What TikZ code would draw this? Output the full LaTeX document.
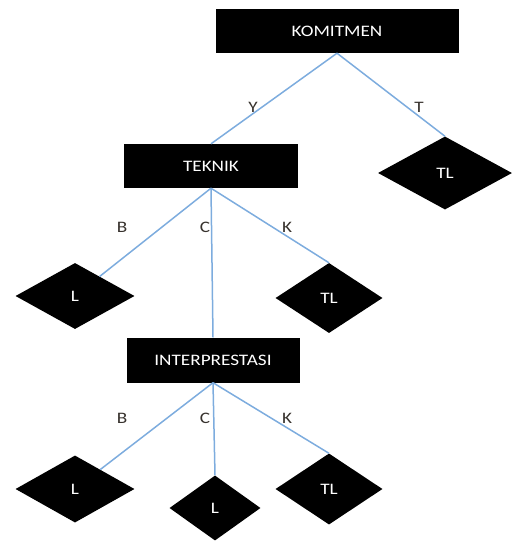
\documentclass[tikz,border=0pt]{standalone}
\usepackage{fontspec}
\setmainfont{Carlito}[FakeStretch=1.2]
\usepackage{tikz}
\usepackage{xcolor}
\usetikzlibrary{positioning,shapes}

\definecolor{linkblue}{RGB}{125,172,222}
\definecolor{labelgray}{RGB}{55,50,45}

\begin{document}
\begin{tikzpicture}[x=1pt,y=-1pt]
\tikzstyle{every node}+=[inner sep=0pt,font=\fontsize{16}{19}\selectfont]
\tikzstyle{box}=[fill=black,text=white,rectangle,minimum height=44pt]
\tikzstyle{leaf}=[fill=black,text=white,diamond]
\tikzstyle{link}=[linkblue,line width=1.5pt]
\tikzstyle{lbl}=[text=labelgray]
\useasboundingbox (0,0) rectangle (512,541);
% kotak keputusan
\node [box,minimum width=243pt] (komitmen) at (337,31) {KOMITMEN};
\node [box,minimum width=174pt] (teknik) at (211,166) {TEKNIK};
\node [box,minimum width=173pt,minimum height=45pt] (interp) at (213,360) {INTERPRESTASI};
% daun
\node [leaf,minimum width=134pt,minimum height=73pt] (tla) at (445,173) {TL};
\node [leaf,minimum width=119pt,minimum height=66pt] (la) at (75,296) {L};
\node [leaf,minimum width=107pt,minimum height=70pt] (tlb) at (329,298) {TL};
\node [leaf,minimum width=119pt,minimum height=67pt] (lb) at (75,489) {L};
\node [leaf,minimum width=91pt,minimum height=65pt] (lc) at (215,508) {L};
\node [leaf,minimum width=107pt,minimum height=71pt] (tlc) at (329,489) {TL};
% garis
\draw [link] (komitmen.south) -- (teknik.north);
\draw [link] (komitmen.south) -- (tla.north);
\draw [link] (teknik.south) -- (la);
\draw [link] (teknik.south) -- (interp.north);
\draw [link] (teknik.south) -- (tlb.north);
\draw [link] (interp.south) -- (lb);
\draw [link] (interp.south) -- (lc.north);
\draw [link] (interp.south) -- (tlc.north);
% label
\node [lbl] (ya) at (253,107) {Y};
\node [lbl] (tidak) at (419,107) {T};
\node [lbl] (ba) at (122,227) {B};
\node [lbl] (ca) at (205,227) {C};
\node [lbl] (ka) at (287,227) {K};
\node [lbl] (bb) at (122,418) {B};
\node [lbl] (cb) at (205,418) {C};
\node [lbl] (kb) at (287,418) {K};
\end{tikzpicture}
\end{document}
